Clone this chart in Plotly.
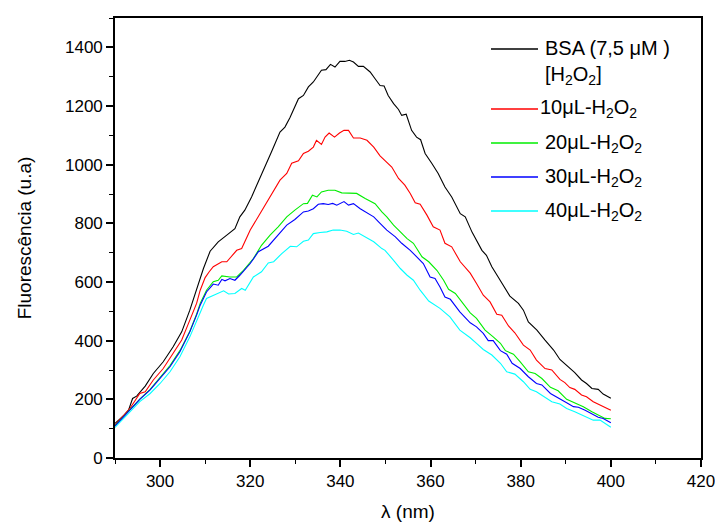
import plotly.graph_objects as go

# Fluorescence emission spectra of BSA with increasing H2O2 additions
wl_bsa = [290.0, 291.9, 293.0, 293.9, 294.8, 296.7, 298.5, 300.7, 302.9, 304.8, 306.6, 308.1,
          309.6, 311.1, 312.9, 314.8, 316.6, 317.7, 318.8, 320.3, 321.8, 323.3, 324.7, 326.6,
          327.7, 328.8, 330.7, 331.8, 332.9, 334.0, 335.8, 336.8, 337.8, 338.8, 339.9, 341.0,
          342.0, 342.9, 344.0, 345.1, 346.6, 347.7, 348.8, 349.7, 350.6, 351.8, 352.9, 353.6,
          354.6, 355.8, 356.9, 357.8, 358.8, 360.3, 361.7, 363.2, 364.7, 366.6, 367.7, 369.2,
          369.9, 371.4, 372.4, 373.6, 375.0, 376.1, 377.6, 379.5, 380.6, 381.7, 383.6, 385.4,
          387.3, 388.7, 390.2, 392.0, 393.5, 394.6, 395.8, 397.2, 398.3, 400.0]
fl_bsa = [118, 144, 163, 203, 211, 245, 288, 328, 379, 430, 504, 572,
          645, 705, 737, 760, 782, 822, 845, 890, 941, 992, 1043, 1111,
          1128, 1160, 1225, 1236, 1265, 1282, 1322, 1324, 1342, 1333, 1352, 1352,
          1356, 1350, 1335, 1335, 1316, 1293, 1270, 1268, 1236, 1208, 1188, 1168,
          1172, 1117, 1094, 1085, 1038, 1004, 970, 924, 890, 833, 822, 770,
          750, 708, 691, 652, 617, 589, 552, 527, 504, 464, 436, 402,
          368, 336, 317, 291, 266, 254, 237, 234, 218, 204]

wl_10 = [290.0, 293.3, 295.5, 296.7, 298.5, 300.7, 302.9, 304.8, 306.6, 308.1, 308.9, 310.0,
         310.9, 311.8, 313.7, 314.8, 317.0, 318.1, 320.0, 322.2, 324.4, 326.6, 328.1, 329.2,
         330.7, 331.8, 332.9, 334.0, 334.7, 335.8, 336.6, 337.5, 338.7, 339.8, 340.8, 341.8,
         342.9, 344.4, 345.9, 347.4, 348.8, 351.4, 352.9, 354.3, 355.5, 356.6, 357.7, 359.2,
         360.6, 362.1, 363.2, 364.7, 366.6, 368.8, 370.2, 371.7, 373.2, 374.7, 375.8, 377.3,
         378.7, 380.6, 382.1, 383.5, 385.4, 386.9, 388.7, 389.8, 390.9, 392.0, 393.5, 394.6,
         396.1, 397.6, 400.0]
fl_10 = [112, 169, 220, 226, 266, 305, 357, 402, 470, 527, 572, 615,
         635, 652, 669, 669, 708, 714, 777, 833, 890, 947, 970, 1005,
         1013, 1038, 1046, 1060, 1083, 1069, 1094, 1108, 1094, 1108, 1117, 1117,
         1091, 1091, 1083, 1060, 1030, 992, 953, 930, 902, 870, 865, 828,
         788, 777, 732, 720, 669, 630, 595, 555, 532, 490, 487, 450,
         427, 385, 368, 334, 305, 300, 268, 257, 240, 234, 215, 209,
         192, 181, 163]

wl_20 = [290.0, 293.3, 295.5, 297.8, 300.0, 302.2, 304.4, 306.6, 308.1, 308.9, 310.3, 311.8,
         312.9, 313.7, 315.5, 317.0, 318.5, 320.7, 322.5, 324.4, 326.2, 328.1, 329.9, 331.8,
         332.7, 333.8, 334.8, 335.8, 337.3, 338.8, 340.3, 342.2, 343.6, 345.5, 347.7, 349.2,
         350.3, 351.8, 353.3, 354.8, 356.2, 358.1, 359.6, 361.4, 362.9, 364.0, 365.5, 366.6,
         368.8, 370.2, 372.1, 373.9, 375.5, 376.6, 378.4, 379.9, 381.7, 383.2, 384.7, 386.6,
         388.3, 390.2, 392.0, 393.9, 395.8, 397.6, 398.7, 400.0]
fl_20 = [110, 164, 201, 234, 274, 315, 366, 432, 490, 527, 572, 601,
         606, 621, 617, 617, 640, 680, 725, 760, 788, 822, 845, 867,
         868, 896, 890, 907, 913, 913, 904, 904, 902, 885, 867, 839,
         822, 794, 771, 748, 732, 686, 669, 640, 606, 575, 561, 538,
         495, 476, 436, 413, 391, 366, 354, 328, 294, 288, 271, 241,
         229, 200, 188, 175, 158, 143, 135, 134]

wl_30 = [290.0, 293.3, 295.5, 297.8, 300.0, 302.2, 304.4, 306.6, 308.1, 308.9, 310.3, 311.8,
         312.9, 313.7, 314.4, 315.5, 316.6, 317.7, 320.0, 321.8, 324.0, 325.9, 328.1, 329.9,
         331.8, 332.9, 334.0, 335.1, 336.2, 337.3, 338.3, 339.2, 340.8, 341.8, 342.9, 344.4,
         345.9, 347.4, 348.8, 350.3, 352.2, 353.6, 355.5, 356.9, 358.4, 359.9, 361.0, 362.1,
         363.2, 364.4, 366.5, 368.8, 370.2, 371.7, 372.8, 373.9, 375.5, 376.9, 378.1, 379.9,
         381.7, 383.5, 384.7, 386.6, 388.7, 390.2, 391.7, 392.8, 394.3, 395.8, 397.2, 398.3,
         400.0]
fl_30 = [109, 163, 200, 232, 271, 311, 362, 430, 487, 521, 566, 593,
         589, 609, 604, 612, 606, 623, 663, 703, 722, 754, 794, 813,
         839, 842, 850, 865, 867, 864, 868, 862, 874, 862, 867, 850,
         836, 822, 800, 777, 754, 732, 708, 686, 663, 617, 612, 583,
         549, 541, 498, 461, 447, 425, 400, 400, 366, 354, 323, 305,
         277, 254, 249, 220, 203, 188, 175, 173, 163, 152, 139, 135,
         120]

wl_40 = [290.0, 293.3, 295.5, 297.8, 300.0, 302.2, 304.4, 306.6, 308.1, 308.9, 309.6, 310.3,
         311.8, 314.1, 315.2, 316.6, 318.1, 318.9, 320.7, 322.5, 324.0, 325.2, 327.0, 328.9,
         330.3, 331.8, 332.9, 334.0, 335.5, 337.0, 338.4, 339.9, 341.4, 342.9, 344.0, 345.5,
         347.4, 349.2, 349.9, 351.8, 353.3, 354.8, 356.2, 357.7, 359.6, 362.1, 364.3, 366.5,
         368.8, 370.2, 371.7, 373.6, 375.5, 376.9, 378.7, 380.6, 382.1, 383.5, 385.1, 386.9,
         388.7, 390.2, 392.0, 393.2, 394.6, 396.1, 397.6, 398.7, 400.0]
fl_40 = [104, 158, 192, 220, 254, 294, 345, 413, 470, 498, 521, 544,
         555, 570, 559, 561, 578, 572, 617, 635, 665, 669, 697, 722,
         720, 739, 743, 765, 769, 771, 777, 777, 773, 762, 767, 754,
         737, 714, 708, 674, 646, 623, 606, 572, 535, 510, 481, 436,
         410, 391, 370, 351, 323, 294, 286, 260, 234, 226, 209, 192,
         184, 169, 158, 150, 141, 129, 129, 118, 105]

series_names = ["BSA (7,5 \u03bcM )<br>[H<sub>2</sub>O<sub>2</sub>]",
                "10\u03bcL-H<sub>2</sub>O<sub>2</sub>",
                "20\u03bcL-H<sub>2</sub>O<sub>2</sub>",
                "30\u03bcL-H<sub>2</sub>O<sub>2</sub>",
                "40\u03bcL-H<sub>2</sub>O<sub>2</sub>"]
series_colors = ["#000000", "#ff0000", "#00ee00", "#0000ff", "#00ffff"]
series_x = [wl_bsa, wl_10, wl_20, wl_30, wl_40]
series_y = [fl_bsa, fl_10, fl_20, fl_30, fl_40]

FONT = "Liberation Sans, Arial, sans-serif"

fig = go.Figure()
for x, y, name, color in zip(series_x, series_y, series_names, series_colors):
    fig.add_trace(go.Scatter(x=x, y=y, mode="lines", name=name,
                             line=dict(color=color, width=1.1), showlegend=False))

# Hand-placed legend (paper coordinates, top-right inside the axes)
W, H = 715, 525
ML, MR, MT, MB = 115, 14, 18, 67
PW, PH = W - ML - MR, H - MT - MB


def px_to_paper(px, py):
    return (px - ML) / PW, 1 - (py - MT) / PH


legend_rows = [49, 109, 143, 177, 211]
text_x = [543, 538, 543, 543, 543]
for i, (row, tx, name, color) in enumerate(zip(legend_rows, text_x, series_names, series_colors)):
    x0, y0 = px_to_paper(491, row)
    x1, _ = px_to_paper(538, row)
    fig.add_shape(type="line", xref="paper", yref="paper", x0=x0, x1=x1, y0=y0, y1=y0,
                  line=dict(color=color, width=1.3))
    ax, ay = px_to_paper(tx, row)
    fig.add_annotation(xref="paper", yref="paper", x=ax, y=ay, text=name,
                       showarrow=False, xanchor="left",
                       yanchor="top" if i == 0 else "middle",
                       yshift=14 if i == 0 else 0,
                       align="left", font=dict(family=FONT, size=20, color="#000"))

axis_common = dict(showline=True, linecolor="#000", linewidth=1.6, mirror=True,
                   ticks="outside", ticklen=7, tickwidth=1.5, tickcolor="#000",
                   showgrid=False, zeroline=False, automargin=False,
                   ticklabeloverflow="allow",
                   tickfont=dict(family=FONT, size=17, color="#000"))

fig.update_xaxes(range=[290, 420], tick0=300, dtick=20,
                 minor=dict(ticks="outside", ticklen=4, tickwidth=1.3, tickcolor="#000",
                            tick0=290, dtick=10),
                 title=dict(text="\u03bb (nm)", font=dict(family=FONT, size=19, color="#000"),
                            standoff=14),
                 **axis_common)
fig.update_yaxes(range=[0, 1500], tick0=0, dtick=200,
                 minor=dict(ticks="outside", ticklen=4, tickwidth=1.3, tickcolor="#000",
                            tick0=0, dtick=100),
                 title=dict(text="Fluoresc\u00eancia (u.a)",
                            font=dict(family=FONT, size=19, color="#000"), standoff=28),
                 **axis_common)

fig.update_layout(width=W, height=H, margin=dict(l=ML, r=MR, t=MT, b=MB),
                  paper_bgcolor="#fff", plot_bgcolor="#fff", showlegend=False)

fig.write_html("out.html")
